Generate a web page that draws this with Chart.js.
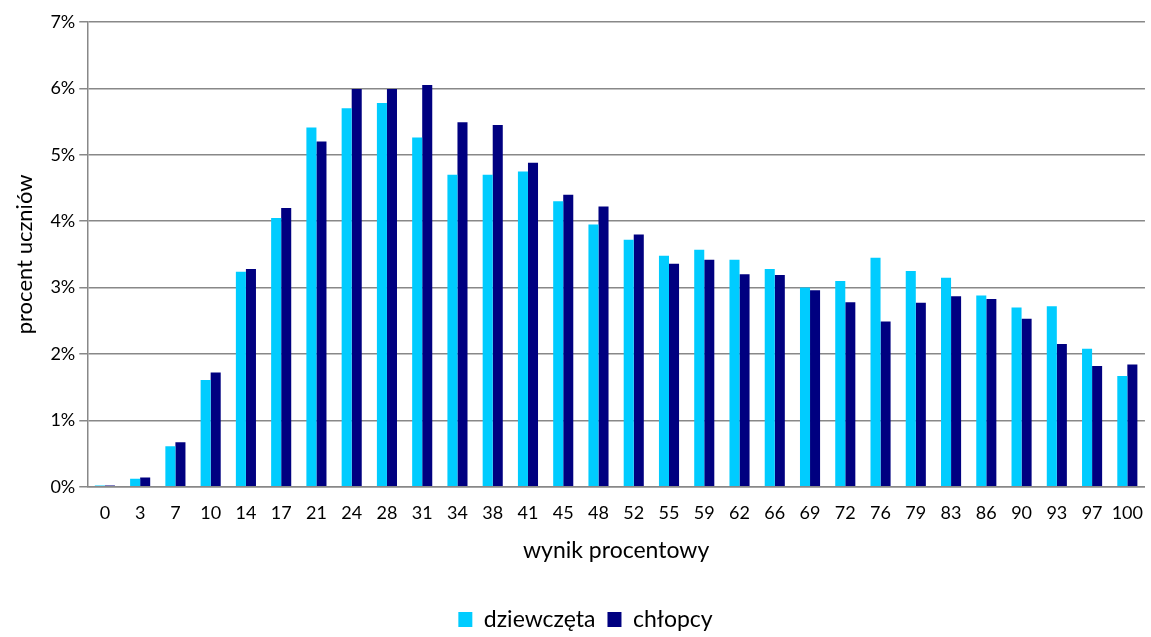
<!DOCTYPE html>
<html>
<head>
<meta charset="utf-8">
<script src="https://cdn.jsdelivr.net/npm/chart.js@4.4.0/dist/chart.umd.min.js"></script>
<style>
  html, body { margin: 0; padding: 0; background: #fff; }
  #wrap { width: 1151px; height: 637px; }
</style>
</head>
<body>
<div id="wrap"><canvas id="chart"></canvas></div>
<script>
const scores = ["0", "3", "7", "10", "14", "17", "21", "24", "28", "31", "34", "38", "41", "45", "48",
  "52", "55", "59", "62", "66", "69", "72", "76", "79", "83", "86", "90", "93", "97", "100"];

// percent of students
const girls = [0.02, 0.12, 0.61, 1.61, 3.24, 4.05, 5.41, 5.70, 5.78, 5.26, 4.70, 4.70, 4.75, 4.30, 3.95,
  3.72, 3.48, 3.57, 3.42, 3.28, 3.00, 3.10, 3.45, 3.25, 3.15, 2.88, 2.70, 2.72, 2.08, 1.67];
const boys = [0.02, 0.14, 0.67, 1.72, 3.28, 4.20, 5.20, 5.99, 5.99, 6.05, 5.49, 5.45, 4.88, 4.40, 4.22,
  3.80, 3.36, 3.42, 3.20, 3.19, 2.96, 2.78, 2.49, 2.77, 2.87, 2.83, 2.53, 2.15, 1.82, 1.84];

const font = "Lato, 'Open Sans', sans-serif";

new Chart(document.getElementById("chart"), {
  type: "bar",
  data: {
    labels: scores,
    datasets: [
      { label: "dziewczęta", data: girls, backgroundColor: "#00CCFF" },
      { label: "chłopcy", data: boys, backgroundColor: "#000080" }
    ]
  },
  options: {
    responsive: true,
    maintainAspectRatio: false,
    animation: false,
    layout: { padding: { top: 22, right: -12, left: 8, bottom: -4 } },
    datasets: { bar: { categoryPercentage: 0.57, barPercentage: 1.0 } },
    plugins: {
      legend: {
        position: "bottom",
        labels: { font: { family: font, size: 23 }, color: "#000", boxWidth: 14, boxHeight: 15, padding: 12 }
      },
      tooltip: { enabled: false }
    },
    scales: {
      x: {
        grid: { display: false },
        border: { color: "#888", width: 1.5 },
        ticks: { font: { family: font, size: 18 }, color: "#000", maxRotation: 0, autoSkip: false, padding: 8 },
        title: { display: true, text: "wynik procentowy", font: { family: font, size: 23 }, color: "#000",
          padding: { top: 4, bottom: 32 } }
      },
      y: {
        min: 0,
        max: 7,
        ticks: { stepSize: 1, font: { family: font, size: 18 }, color: "#000", padding: 4,
          callback: (v) => v + "%" },
        grid: { color: "#888", lineWidth: 1.5, tickLength: 8 },
        border: { color: "#888", width: 1.5 },
        title: { display: true, text: "procent uczniów", font: { family: font, size: 22 }, color: "#000",
          padding: { bottom: 8 } }
      }
    }
  }
});
</script>
</body>
</html>
